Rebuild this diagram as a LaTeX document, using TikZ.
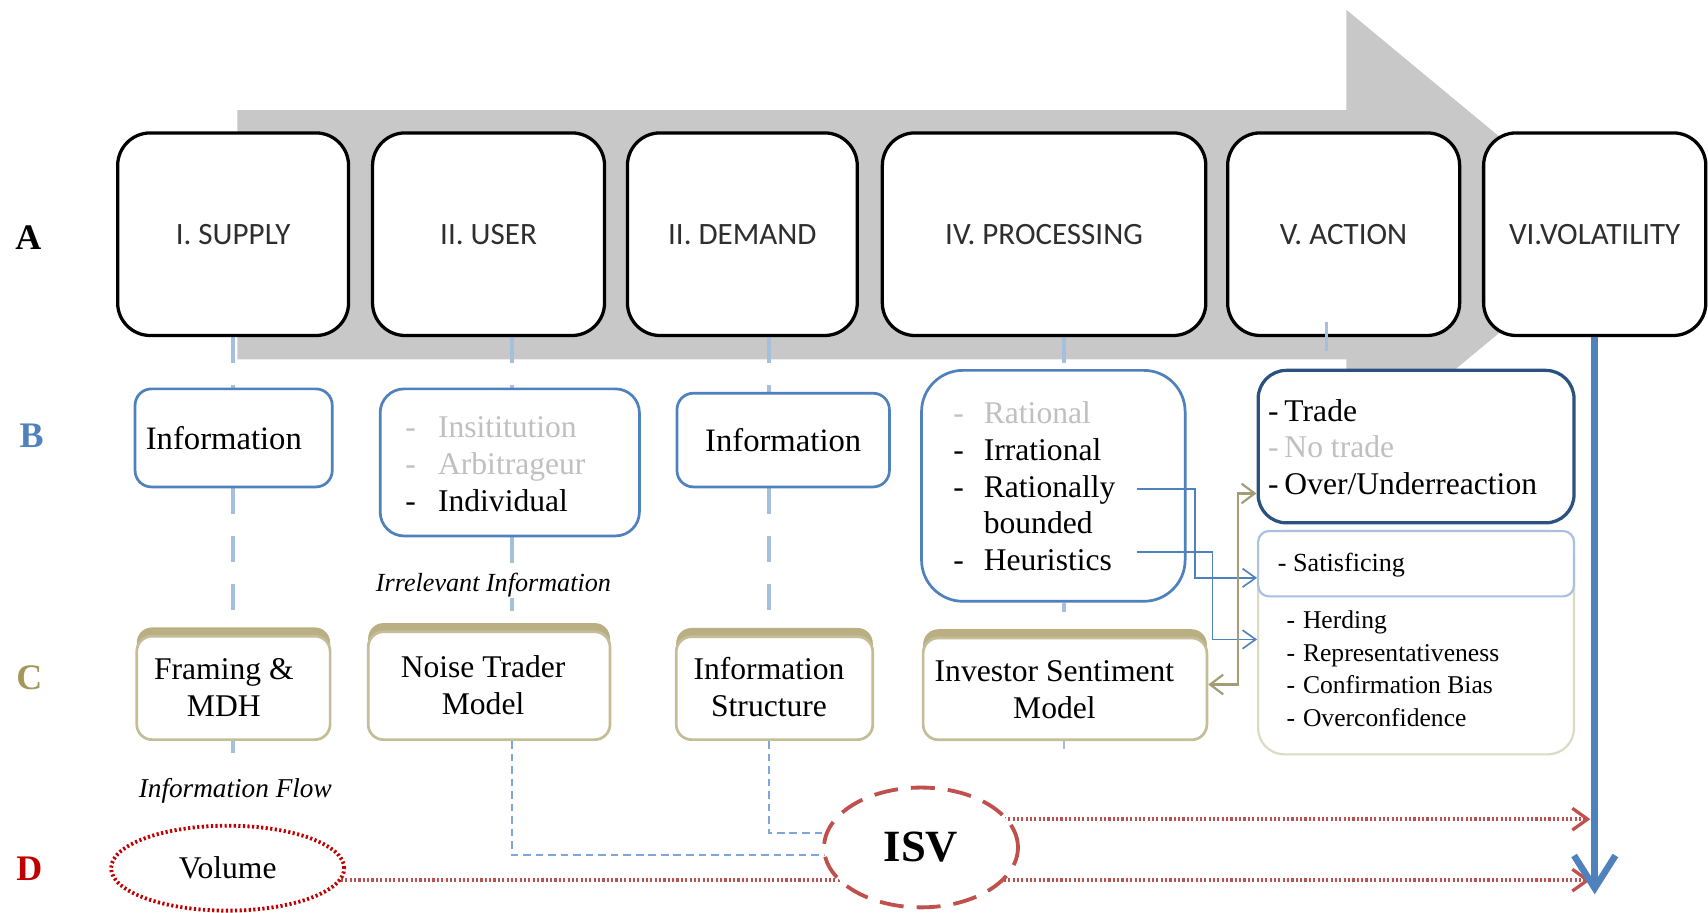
\documentclass[tikz,border=0pt]{standalone}
\usepackage{fontspec}
\setmainfont{Liberation Serif}
\newfontfamily\carl{Carlito}
\usetikzlibrary{arrows.meta,calc,shapes.geometric,shadows}
\pgfdeclarelayer{back}
\pgfdeclarelayer{mid}
\pgfsetlayers{back,mid,main}
\definecolor{grayarrow}{HTML}{C8C8C8}
\definecolor{bblue}{HTML}{4F81BD}
\definecolor{lblue}{HTML}{A7BFDE}
\definecolor{mblue}{HTML}{7EA6D8}
\definecolor{dblue}{HTML}{2B527F}
\definecolor{sblue}{HTML}{A9C1DF}
\definecolor{khaki}{HTML}{C4BD97}
\definecolor{khakid}{HTML}{B9AF82}
\definecolor{khakil}{HTML}{DDD9C3}
\definecolor{karr}{HTML}{A39C74}
\definecolor{ctext}{HTML}{A6965C}
\definecolor{dred}{HTML}{C00000}
\definecolor{mred}{HTML}{C0504D}
\definecolor{lgray}{HTML}{C0C0C0}
\definecolor{atext}{HTML}{2E2E2E}
\begin{document}
\begin{tikzpicture}[x=1pt,y=-1pt,
  abox/.style={draw=black,line width=3pt,rounded corners=30pt,fill=white,inner sep=0pt,font=\carl\fontsize{28.5}{34}\selectfont,text=atext},
  bbox/.style={draw=bblue,line width=2.5pt,rounded corners=15pt,fill=white,inner sep=0pt,font=\fontsize{30}{36}\selectfont},
  cbox/.style={draw=khaki,line width=2.5pt,rounded corners=14pt,fill=white,inner sep=0pt,
     drop shadow={shadow xshift=0pt,shadow yshift=8pt,fill=khakid,opacity=1}},
  ctxt/.style={align=center,inner sep=0pt,font=\fontsize{29}{34}\selectfont},
  listtxt/.style={anchor=west,align=left,inner sep=0pt},
  ldash/.style={draw=lblue,line width=4pt,dash pattern=on 24pt off 20pt},
  tdash/.style={draw=mblue,line width=2pt,dash pattern=on 7pt off 4.5pt},
  rdot/.style={draw=mred,line width=3.5pt,dash pattern=on 2pt off 2pt},
  barrow/.style={draw=bblue,line width=1.5pt,-{Straight Barb[length=12pt,width=17pt,line width=1.5pt]}},
  karrow/.style={draw=karr,line width=2pt,{Straight Barb[length=12pt,width=18pt,line width=2pt]}-{Straight Barb[length=12pt,width=18pt,line width=2pt]}},
  lab/.style={font=\bfseries\fontsize{33}{36}\selectfont,inner sep=0pt},
]
\useasboundingbox (0,0) rectangle (1568,838);

% big gray process arrow
\begin{pgfonlayer}{back}
\fill[grayarrow] (218,101) -- (1236,101) -- (1236,9) -- (1485,215.5) -- (1236,422) -- (1236,330) -- (218,330) -- cycle;
\end{pgfonlayer}

% row labels
\node[lab] (LA) at (26,218) {A};
\node[lab,text=bblue] (LB) at (29,400) {B};
\node[lab,text=ctext] (LC) at (27,622) {C};
\node[lab,text=dred] (LD) at (27,798) {D};

% row A
\node[abox,minimum width=212pt,minimum height=186pt] (sup) at (214,215) {I. SUPPLY};
\node[abox,minimum width=213pt,minimum height=186pt] (usr) at (448.5,215) {II. USER};
\node[abox,minimum width=211pt,minimum height=186pt] (dem) at (681.5,215) {II. DEMAND};
\node[abox,minimum width=297pt,minimum height=186pt] (proc) at (958.5,215) {IV. PROCESSING};
\node[abox,minimum width=213pt,minimum height=186pt] (act) at (1233.5,215) {V. ACTION};
\node[abox,minimum width=204pt,minimum height=186pt] (vol) at (1464,215) {VI.VOLATILITY};

% row B
\node[bbox,minimum width=181pt,minimum height=90pt] (infoS) at (214.5,402) {\hspace*{-18pt}Information};
\node[bbox,rounded corners=22pt,minimum width=238pt,minimum height=135pt] (usrB) at (468,424.5) {};
\node[listtxt,font=\fontsize{29}{34}\selectfont] (usrT) at (372,426)
  {\textcolor{lgray}{\makebox[30pt][l]{-}Insititution}\\\textcolor{lgray}{\makebox[30pt][l]{-}Arbitrageur}\\\makebox[30pt][l]{-}Individual};
\node[bbox,minimum width=195pt,minimum height=86pt] (infoD) at (719,404) {Information};
\node[bbox,rounded corners=38pt,minimum width=242pt,minimum height=212pt] (procB) at (967,446) {};
\node[listtxt,font=\fontsize{29}{33.75}\selectfont] (procT) at (875,446.5)
  {\textcolor{lgray}{\makebox[28pt][l]{-}Rational}\\\makebox[28pt][l]{-}Irrational\\\makebox[28pt][l]{-}Rationally\\\hspace*{28pt}bounded\\\makebox[28pt][l]{-}Heuristics};
\node[draw=dblue,line width=3pt,rounded corners=26pt,fill=white,inner sep=0pt,minimum width=290pt,minimum height=140pt] (trade) at (1300,410) {};
\node[listtxt,font=\fontsize{29}{33.5}\selectfont] (tradeT) at (1164,410.5)
  {\makebox[15pt][l]{-}Trade\\\textcolor{lgray}{\makebox[15pt][l]{-}No trade}\\\makebox[15pt][l]{-}Over/Underreaction};
\node[draw=khakil,line width=2pt,rounded corners=24pt,fill=white,inner sep=0pt,minimum width=290pt,minimum height=205pt] (bias) at (1300,590) {};
\node[draw=sblue,line width=2pt,rounded corners=10pt,fill=white,inner sep=0pt,minimum width=290pt,minimum height=60pt] (satis) at (1300,517.5) {};
\node[listtxt,font=\fontsize{24}{28}\selectfont] (satT) at (1173,519) {\makebox[14pt][l]{-}Satisficing};
\node[listtxt,font=\fontsize{23.5}{30}\selectfont] (biasT) at (1181,614)
  {\makebox[15pt][l]{-}Herding\\\makebox[15pt][l]{-}Representativeness\\\makebox[15pt][l]{-}Confirmation Bias\\\makebox[15pt][l]{-}Overconfidence};

% row C
\node[cbox,minimum width=177.5pt,minimum height=95pt] (frm) at (214.3,631.5) {};
\node[ctxt] (frmT) at (205.5,631) {Framing \&\\MDH};
\node[cbox,minimum width=222pt,minimum height=99pt] (nt) at (449,629.5) {};
\node[ctxt] (ntT) at (443.5,629) {Noise Trader\\Model};
\node[cbox,minimum width=180.5pt,minimum height=94.5pt] (is) at (711,631.75) {};
\node[ctxt] (isT) at (706,631) {Information\\Structure};
\node[cbox,minimum width=260.5pt,minimum height=93.5pt] (ism) at (977.7,632.4) {};
\node[ctxt] (ismT) at (968,633.5) {Investor Sentiment\\Model};

% italic labels
\node[font=\itshape\fontsize{24}{28}\selectfont,fill=white,inner sep=1pt] (irr) at (453,537) {Irrelevant Information};
\node[font=\itshape\fontsize{25}{28}\selectfont,inner sep=1pt] (flow) at (216,726) {Information Flow};

% row D
\node[ellipse,draw=dred,line width=3.5pt,dash pattern=on 2pt off 2.2pt,fill=white,minimum width=214pt,minimum height=78pt,inner sep=0pt,font=\fontsize{29}{34}\selectfont] (volume) at (209,797) {Volume};
\node[ellipse,draw=mred,line width=3.5pt,dash pattern=on 22pt off 12pt,fill=white,minimum width=178pt,minimum height=110pt,inner sep=0pt,font=\bfseries\fontsize{41}{44}\selectfont] (isv) at (845.5,778) {ISV};

% helper coordinates
\coordinate (c2) at (470,0);
\coordinate (c3) at (706,0);
\coordinate (c4) at (977,0);
\coordinate (redlow) at (0,808);
\coordinate (tipup) at (1460,752);
\coordinate (tiplow) at (1460,808);
\coordinate (voltip) at (1465,821);
\coordinate (acttick) at (1218,296);
\coordinate (ratE) at (1044,449);
\coordinate (heuE) at (1044,507);

% connectors behind nodes
\begin{pgfonlayer}{mid}
\draw[ldash] (sup.south) -- (sup.south |- infoS.north);
\draw[ldash] (sup.south |- infoS.south) -- (sup.south |- frm.north);
\draw[ldash] (sup.south |- frm.south) -- ++(0,11);
\draw[ldash] (c2 |- usr.south) -- (c2 |- usrB.north);
\draw[ldash] (c2 |- usrB.south) -- (c2 |- nt.north);
\draw[tdash] (c2 |- nt.south) |- ($(isv.center)+(0,7)$);
\draw[ldash] (c3 |- dem.south) -- (c3 |- infoD.north);
\draw[ldash] (c3 |- infoD.south) -- (c3 |- is.north);
\draw[tdash] (c3 |- is.south) |- ($(isv.center)+(0,-13)$);
\draw[ldash] (c4 |- proc.south) -- (c4 |- procB.north);
\draw[ldash,dash pattern=on 9pt off 40pt] (c4 |- procB.south) -- (c4 |- ism.north);
\draw[tdash,draw=lblue,solid] (c4 |- ism.south) -- ++(0,7);
\draw[rdot] (volume.center |- redlow) -- (isv.center |- redlow);
\draw[rdot,-{Straight Barb[length=14pt,width=20pt,line width=3pt]}] (isv.center |- tipup) -- (tipup);
\draw[rdot,-{Straight Barb[length=14pt,width=20pt,line width=3pt]}] (isv.center |- tiplow) -- (tiplow);
\end{pgfonlayer}

% connectors on top
\draw[draw=lblue,line width=3pt] (acttick) -- ++(0,26);
\draw[draw=bblue,line width=6pt,-{Straight Barb[length=30pt,width=38pt,line width=6pt]}] (vol.south) -- (vol.south |- voltip);
\draw[barrow] (ratE) -- ++(53,0) |- ($(satis.west)+(0,13)$);
\draw[barrow] (heuE) -- ++(69,0) |- ($(bias.west)+(0,-3)$);
\draw[karrow] ($(trade.west)+(0,43)$) -| ($(ism.east)+(27,-4)$) -- ($(ism.east)+(0,-4)$);
\end{tikzpicture}
\end{document}
